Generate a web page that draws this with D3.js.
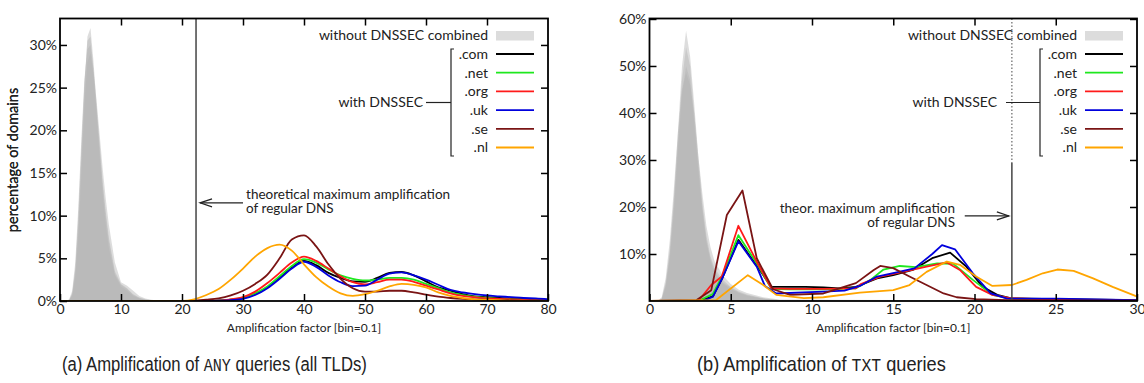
<!DOCTYPE html>
<html>
<head>
<meta charset="utf-8">
<script src="https://cdn.jsdelivr.net/npm/d3@7"></script>
<style>
  body { margin: 0; background: #fff; }
  svg text { font-family: Lato, "DejaVu Sans", sans-serif; fill: #222; }
</style>
</head>
<body>
<svg id="chart" width="1144" height="383"></svg>
<script>
// ---- data ----
var tlds = [".com", ".net", ".org", ".uk", ".se", ".nl"];
var tldColors = ["#000000", "#1ee81e", "#ff1a1a", "#0000dd", "#7a1414", "#ffa500"];

var maxAmplification = 22.3;

// (a) ANY queries, x = amplification factor, y = % of domains
var anyX = [0, 20, 22, 24, 26, 28, 30, 32, 34, 36, 38, 40, 42, 44, 46, 48, 50, 52, 54, 56, 58, 60, 62, 64, 66, 68, 70, 72, 74, 76, 78, 80];
var anyCom = [0, 0, 0, 0, 0.05, 0.15, 0.35, 0.8, 1.6, 2.7, 3.9, 4.7, 4.2, 3.3, 2.7, 2.3, 2.25, 2.7, 3.3, 3.4, 3.0, 2.3, 1.6, 1.2, 0.8, 0.55, 0.45, 0.35, 0.3, 0.25, 0.2, 0.15];
var anyNet = [0, 0, 0, 0, 0.05, 0.15, 0.4, 0.9, 1.7, 2.9, 4.1, 4.9, 4.5, 3.7, 3.0, 2.6, 2.4, 2.5, 2.7, 2.7, 2.5, 2.0, 1.5, 1.0, 0.7, 0.5, 0.35, 0.25, 0.2, 0.15, 0.1, 0.1];
var anyOrg = [0, 0, 0, 0, 0.05, 0.2, 0.45, 1.1, 2.1, 3.3, 4.5, 5.2, 4.7, 3.8, 2.9, 2.2, 1.95, 2.2, 2.5, 2.5, 2.25, 1.8, 1.35, 0.9, 0.6, 0.45, 0.3, 0.25, 0.2, 0.15, 0.1, 0.1];
var anyUk = [0, 0, 0, 0, 0.03, 0.1, 0.25, 0.7, 1.5, 2.6, 3.8, 4.6, 4.0, 3.0, 2.2, 1.75, 1.8, 2.5, 3.2, 3.35, 3.0, 2.5, 1.9, 1.3, 1.0, 0.8, 0.65, 0.55, 0.45, 0.35, 0.3, 0.2];
var anySe = [0, 0, 0.05, 0.15, 0.3, 0.65, 1.2, 2.0, 3.1, 5.0, 7.2, 7.7, 6.4, 4.3, 2.6, 1.5, 1.1, 1.1, 1.2, 1.2, 1.0, 0.75, 0.5, 0.35, 0.25, 0.2, 0.15, 0.1, 0.1, 0.05, 0.05, 0];
var anyNl = [0, 0, 0.2, 0.7, 1.4, 2.5, 3.8, 5.2, 6.2, 6.6, 5.9, 4.3, 2.8, 1.7, 0.9, 0.6, 0.8, 1.2, 1.7, 2.0, 1.9, 1.6, 1.0, 0.6, 0.35, 0.2, 0.15, 0.1, 0.05, 0.05, 0, 0];

// (a) without DNSSEC, several overlapping histograms
var anyGrayX = [0, 1, 1.5, 2, 2.5, 3, 3.5, 4, 4.5, 5, 5.5, 6, 6.5, 7, 7.5, 8, 9, 10, 11, 12, 13, 14, 15, 16, 17, 80];
var anyGray1 = [0, 0, 0.1, 0.8, 3.5, 9, 17, 25, 31, 32, 28, 23, 18.5, 14, 10.5, 7.5, 3.5, 2, 1.5, 0.8, 0.4, 0.2, 0.1, 0, 0, 0];
var anyGray2 = [0, 0, 0.2, 1.2, 4.5, 11, 19, 26, 29.5, 30, 27, 23.5, 19.5, 15.5, 12, 9, 4.5, 2.2, 1.8, 1.2, 0.6, 0.3, 0.15, 0.05, 0, 0];
var anyGray3 = [0, 0, 0.1, 0.6, 2.8, 7.5, 15, 23, 28, 29, 26.5, 22, 17, 12.5, 9, 6.2, 3, 1.7, 1.2, 0.6, 0.3, 0.1, 0, 0, 0, 0];
var anyGray4 = [0, 0, 0.1, 0.9, 3.8, 10, 18, 25.5, 30.5, 31, 27, 22.5, 18, 13.5, 10, 7, 3.2, 1.9, 1.4, 0.7, 0.35, 0.15, 0.05, 0, 0, 0];

// (b) TXT queries, [amplification, % of domains]
var txtCom = [[0, 0], [3, 0], [3.9, 1.0], [4.5, 5], [5.47, 13], [6.6, 7.5], [7.5, 3.0], [8.6, 3.0], [9.6, 3.0], [10.7, 2.9], [11.7, 2.7], [12.7, 3.0], [14, 4.8], [15, 5.5], [16.2, 6.6], [17.4, 9.1], [18.5, 10.3], [19.5, 7.3], [20.5, 3.0], [21.4, 1.3], [22.2, 0.6], [25, 0.4], [30, 0.2]];
var txtNet = [[0, 0], [3, 0], [3.9, 1.5], [4.5, 5.5], [5.47, 14], [6.6, 8], [7.5, 2.6], [8.6, 2.5], [10.7, 2.5], [12.7, 2.7], [13.6, 4.5], [14.4, 6.7], [15.4, 7.45], [16.4, 7.2], [17.7, 8.0], [18.7, 7.9], [19.9, 4.5], [21.1, 1.3], [22.2, 0.5], [25, 0.3], [30, 0.1]];
var txtOrg = [[0, 0], [3, 0], [3.8, 3.4], [4.45, 5.2], [5.47, 16], [6.7, 7.7], [7.5, 2.7], [8.6, 2.6], [10.7, 2.6], [12.7, 2.7], [13, 3.6], [14.2, 5.2], [15.6, 6.2], [17.05, 7.3], [18.3, 8.2], [19.1, 6.6], [20.1, 3.0], [21.1, 1.3], [22.2, 0.6], [25, 0.3], [30, 0.15]];
var txtUk = [[0, 0], [3.3, 0], [3.9, 0.9], [4.5, 5], [5.47, 12.7], [6.6, 7.3], [7.1, 3.2], [7.8, 1.6], [10.7, 2.0], [12, 2.2], [12.95, 3.2], [14, 5.2], [15.2, 6.1], [16.3, 6.95], [17.4, 10.0], [18.0, 11.9], [18.8, 11.0], [19.9, 5.9], [21, 1.6], [22, 0.5], [25, 0.5], [30, 0.2]];
var txtSe = [[0, 0], [2.9, 0.2], [3.8, 2.3], [4.76, 18.3], [5.72, 23.5], [6.6, 9.1], [7.6, 2.5], [8.65, 1.3], [10.7, 1.6], [12.7, 3.8], [13.8, 6.6], [14.2, 7.45], [15, 7.0], [16, 5.2], [17.05, 3.4], [18.1, 1.6], [18.9, 0.8], [20.1, 0.4], [22, 0.2], [30, 0.1]];
var txtNl = [[0, 0], [4.1, 0.2], [6.05, 5.5], [7, 3.4], [7.8, 1.3], [9.5, 0.6], [10.7, 0.8], [12.95, 1.8], [15, 2.3], [16, 3.4], [17.05, 6.2], [18.3, 8.4], [19.1, 7.7], [20.1, 5.2], [21.1, 3.2], [22.3, 3.4], [23.2, 4.5], [24.2, 5.9], [25.1, 6.7], [26.1, 6.4], [27.3, 4.8], [28.5, 3.0], [29.9, 1.1], [30, 1.0]];

var txtGrayX = [0, 0.5, 0.75, 1, 1.25, 1.5, 1.75, 2, 2.25, 2.5, 2.75, 3, 3.25, 3.5, 3.75, 4, 4.5, 5, 5.5, 6, 7, 8, 30];
var txtGray1 = [0, 0, 0.5, 4, 11, 22, 36, 50, 57.5, 52, 42, 31, 21, 14, 9.5, 7, 4.5, 3, 2, 1.4, 0.6, 0.2, 0];
var txtGray2 = [0, 0, 0.8, 5, 13, 24, 36, 45, 48.5, 46, 40, 31, 23, 16, 11.5, 8.5, 5.5, 3.6, 2.4, 1.7, 0.8, 0.3, 0];
var txtGray3 = [0, 0, 0.3, 3, 9, 19, 32, 44, 50, 47, 38, 28, 19, 12.5, 8.5, 6, 3.8, 2.5, 1.7, 1.1, 0.5, 0.15, 0];
var txtGray4 = [0, 0, 0.4, 3.5, 10, 21, 34, 47, 54, 50, 40, 29.5, 20, 13, 9, 6.5, 4, 2.8, 1.8, 1.2, 0.5, 0.2, 0];

var anyXTicks = [0, 10, 20, 30, 40, 50, 60, 70, 80];
var anyYTicks = [0, 5, 10, 15, 20, 25, 30];
var txtXTicks = [0, 5, 10, 15, 20, 25, 30];
var txtYTicks = [10, 20, 30, 40, 50, 60];

// ---- drawing ----
var svg = d3.select("#chart");
var FS = 14;

function zip(xs, ys) { return xs.map((x, i) => [x, ys[i]]); }

function drawPanel(P) {
    var g = svg.append("g").attr("transform", "translate(" + P.left + "," + P.top + ")");
    var W = P.width, H = P.height;

    var x = d3.scaleLinear().domain([0, P.xMax]).range([0, W]);
    var y = d3.scaleLinear().domain([0, P.yMax]).range([H, 0]);

    var clipId = "clip" + P.id;
    g.append("clipPath").attr("id", clipId).append("rect").attr("width", W).attr("height", H);
    var plot = g.append("g").attr("clip-path", "url(#" + clipId + ")");

    // gray histograms without DNSSEC
    var area = d3.area().x(d => x(d[0])).y0(H).y1(d => y(d[1]));
    P.gray.forEach(s => {
        plot.append("path")
            .attr("d", area(zip(P.grayX, s)))
            .attr("fill", "#b4b4b4")
            .attr("fill-opacity", 0.45);
    });

    // theoretical maximum line
    var mx = x(maxAmplification);
    if (P.dottedTo) {
        g.append("line").attr("x1", mx).attr("x2", mx).attr("y1", 0).attr("y2", P.dottedTo)
            .attr("stroke", "#666").attr("stroke-width", 1.2).attr("stroke-dasharray", "1.5,2");
        g.append("line").attr("x1", mx).attr("x2", mx).attr("y1", P.dottedTo).attr("y2", H)
            .attr("stroke", "#444").attr("stroke-width", 1.5);
    } else {
        g.append("line").attr("x1", mx).attr("x2", mx).attr("y1", 0).attr("y2", H)
            .attr("stroke", "#444").attr("stroke-width", 1.5);
    }

    // axes (ticks pointing inwards, mirrored on top/right)
    var fmtY = d => d + "%";
    g.append("g").attr("transform", "translate(0," + H + ")")
        .call(d3.axisBottom(x).tickValues(P.xTicks).tickSizeInner(-7).tickSizeOuter(0).tickPadding(3))
        .call(a => a.select(".domain").remove());
    g.append("g")
        .call(d3.axisLeft(y).tickValues(P.yTicks).tickFormat(fmtY).tickSizeInner(-7).tickSizeOuter(0).tickPadding(3))
        .call(a => a.select(".domain").remove());
    g.append("g")
        .call(d3.axisTop(x).tickValues(P.xTicks.slice(1, -1)).tickFormat("").tickSizeInner(-7).tickSizeOuter(0))
        .call(a => a.select(".domain").remove());
    g.append("g").attr("transform", "translate(" + W + ",0)")
        .call(d3.axisRight(y).tickValues(P.yTicks.filter(v => v > 0 && v < P.yMax)).tickFormat("").tickSizeInner(-7).tickSizeOuter(0))
        .call(a => a.select(".domain").remove());
    g.selectAll(".tick line").attr("stroke", "#000").attr("stroke-width", 1.5);
    g.selectAll(".tick text").attr("font-size", FS).attr("fill", "#222")
        .attr("font-family", "Lato, 'DejaVu Sans', sans-serif");

    // series with DNSSEC
    var line = d3.line().x(d => x(d[0])).y(d => y(d[1])).curve(P.curve);
    P.series.forEach((s, i) => {
        plot.append("path")
            .attr("d", line(s))
            .attr("fill", "none")
            .attr("stroke", tldColors[i])
            .attr("stroke-width", 1.8)
            .attr("stroke-linejoin", "round");
    });

    // frame
    g.append("rect").attr("width", W).attr("height", H)
        .attr("fill", "none").attr("stroke", "#000").attr("stroke-width", 1.8);

    // axis titles
    g.append("text").attr("x", W / 2).attr("y", H + 31).attr("text-anchor", "middle")
        .attr("font-size", 12).text("Amplification factor [bin=0.1]");
    g.append("text").attr("transform", "translate(" + (18 - P.left) + "," + (160 - P.top) + ") rotate(-90)")
        .attr("text-anchor", "middle").attr("font-size", 14.5).text("percentage of domains");

    // legend
    var lx = W - 60, sx0 = W - 52, sx1 = W - 14;
    g.append("text").attr("x", lx).attr("y", 35 - P.top).attr("dy", "0.35em")
        .attr("text-anchor", "end").attr("font-size", FS).text("without DNSSEC combined");
    g.append("rect").attr("x", sx0).attr("y", 31 - P.top).attr("width", sx1 - sx0).attr("height", 9.5)
        .attr("fill", "#dcdcdc");
    tlds.forEach((t, i) => {
        var ly = 54 - P.top + i * 18.7;
        g.append("text").attr("x", lx).attr("y", ly).attr("dy", "0.35em")
            .attr("text-anchor", "end").attr("font-size", FS).text(t);
        g.append("line").attr("x1", sx0).attr("x2", sx1).attr("y1", ly).attr("y2", ly)
            .attr("stroke", tldColors[i]).attr("stroke-width", 1.8);
    });
    var bx = W - 97, by0 = 49 - P.top, by1 = 156 - P.top, bmid = 102.5 - P.top;
    g.append("path").attr("d", "M" + (bx + 3) + "," + by0 + "H" + bx + "V" + by1 + "H" + (bx + 3))
        .attr("fill", "none").attr("stroke", "#222").attr("stroke-width", 1.2);
    g.append("line").attr("x1", W - P.withGap).attr("x2", bx).attr("y1", bmid).attr("y2", bmid)
        .attr("stroke", "#222").attr("stroke-width", 1.2);
    g.append("text").attr("x", W - P.withGap - P.withTextGap).attr("y", bmid).attr("dy", "0.35em")
        .attr("text-anchor", "end").attr("font-size", FS).text("with DNSSEC");

    // annotation
    var A = P.note;
    var ay = y(A.arrowY), tip = A.tipDx > 0 ? mx - 3 : mx + 4;
    var tail = x(A.arrowFrom);
    var dir = tip > tail ? 1 : -1;
    g.append("line").attr("x1", tail).attr("x2", tip).attr("y1", ay).attr("y2", ay)
        .attr("stroke", "#222").attr("stroke-width", 1.2);
    g.append("path")
        .attr("d", "M" + (tip - dir * 12) + "," + (ay - 4) + "L" + tip + "," + ay + "L" + (tip - dir * 12) + "," + (ay + 4))
        .attr("fill", "none").attr("stroke", "#222").attr("stroke-width", 1.2);
    A.lines.forEach((t, i) => {
        g.append("text").attr("x", x(A.textX)).attr("y", y(A.textY) + i * A.lineGap).attr("dy", "0.35em")
            .attr("text-anchor", A.anchor).attr("font-size", 13.5).text(t);
    });
}

drawPanel({
    id: "a", left: 60, top: 18.5, width: 488, height: 282.5, xMax: 80, yMax: 33.1,
    xTicks: anyXTicks, yTicks: anyYTicks, curve: d3.curveMonotoneX,
    grayX: anyGrayX, gray: [anyGray1, anyGray2, anyGray3, anyGray4],
    series: [zip(anyX, anyCom), zip(anyX, anyNet), zip(anyX, anyOrg), zip(anyX, anyUk), zip(anyX, anySe), zip(anyX, anyNl)],
    withGap: 122, withTextGap: 3,
    note: { arrowY: 11.5, arrowFrom: 30.0, tipDx: -1, textX: 30.5, textY: 12.5, lineGap: 14, anchor: "start",
            lines: ["theoretical maximum amplification", "of regular DNS"] }
});

drawPanel({
    id: "b", left: 649.5, top: 18.5, width: 487.5, height: 282.5, xMax: 30, yMax: 60.1,
    xTicks: txtXTicks, yTicks: txtYTicks, curve: d3.curveLinear, dottedTo: 163 - 18.5,
    grayX: txtGrayX, gray: [txtGray1, txtGray2, txtGray3, txtGray4],
    series: [txtCom, txtNet, txtOrg, txtUk, txtSe, txtNl],
    withGap: 131, withTextGap: 9,
    note: { arrowY: 18.1, arrowFrom: 19.4, tipDx: 1, textX: 18.8, textY: 19.8, lineGap: 14.5, anchor: "end",
            lines: ["theor. maximum amplification", "of regular DNS"] }
});

// sub-captions, squeezed horizontally to the width they take in the figure
function caption(x0, width, pre, mono, post) {
    var t = svg.append("text").attr("x", 0).attr("y", 0).attr("text-anchor", "start")
        .attr("font-size", 21)
        .style("font-family", "'Liberation Sans', Arial, sans-serif").attr("fill", "#111");
    t.append("tspan").text(pre);
    t.append("tspan").style("font-family", "'Liberation Mono', monospace").attr("font-size", 19).text(mono);
    t.append("tspan").text(post);
    var sx = width / t.node().getComputedTextLength();
    t.attr("transform", "translate(" + x0 + ",371) scale(" + sx + ",1)");
}
caption(62, 305, "(a) Amplification of ", "ANY", " queries (all TLDs)");
caption(697, 249, "(b) Amplification of ", "TXT", " queries");
</script>
</body>
</html>
